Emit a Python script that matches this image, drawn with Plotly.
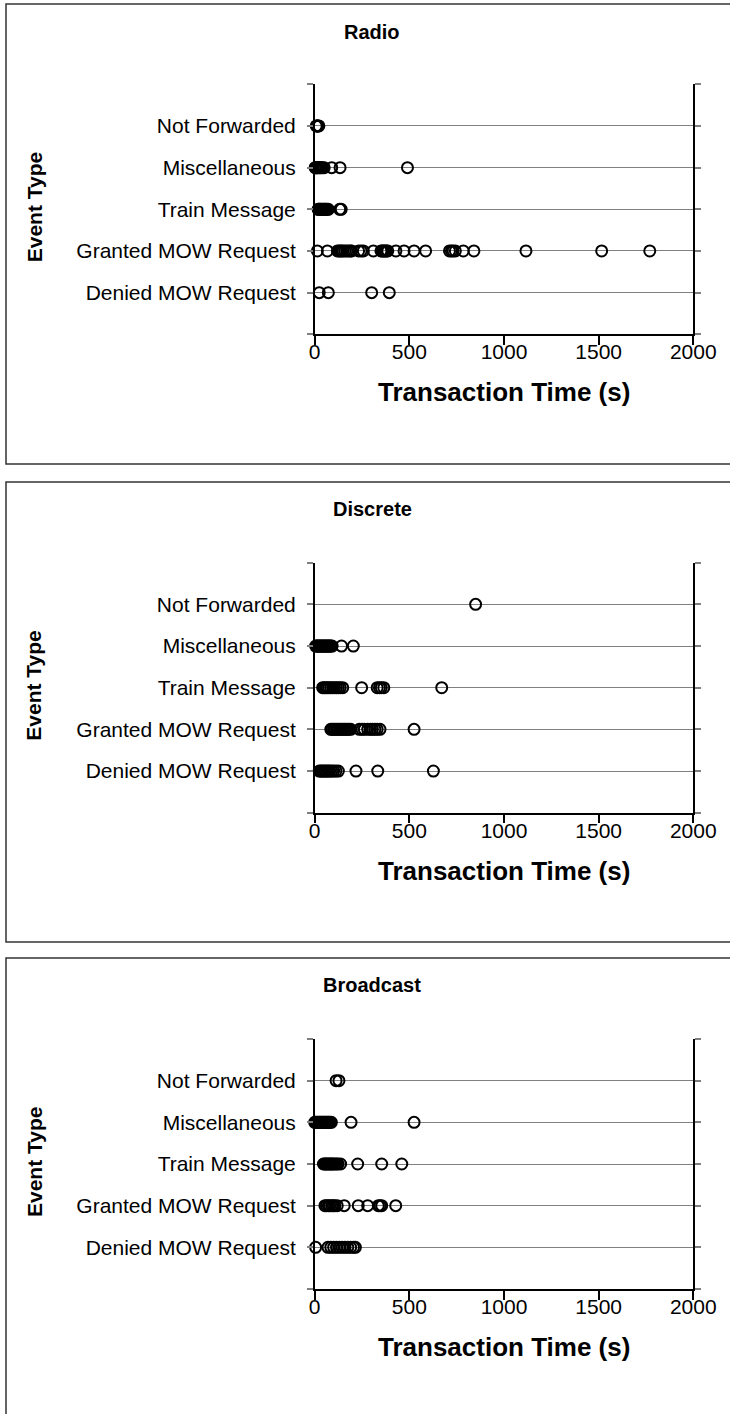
import plotly.graph_objects as go

# ---- data: transaction time (s) per event type, for each channel ----
categories = ["Denied MOW Request", "Granted MOW Request", "Train Message",
              "Miscellaneous", "Not Forwarded"]
x_ticks = [0, 500, 1000, 1500, 2000]

radio_denied = [24, 72, 301, 394]
radio_granted = [14, 67, 120, 128, 135, 142, 150, 160, 170, 180, 190, 195, 232,
                 245, 257, 310, 350, 356, 362, 368, 374, 380, 386, 429, 472, 525,
                 586, 712, 722, 731, 743, 785, 841, 1116, 1516, 1770]
radio_train = [18, 22, 26, 30, 35, 40, 45, 50, 55, 60, 65, 72, 132, 140]
radio_misc = [2, 5, 8, 12, 15, 20, 25, 30, 35, 42, 50, 90, 134, 490]
radio_not_fwd = [8, 12, 15, 18, 22]

discrete_denied = [24, 32, 40, 48, 56, 64, 72, 80, 90, 100, 112, 125, 218, 333, 627]
discrete_granted = [85, 92, 100, 108, 116, 124, 132, 140, 148, 156, 164, 172, 180,
                    190, 236, 250, 262, 280, 295, 305, 318, 330, 345, 525]
discrete_train = [42, 50, 58, 66, 75, 85, 95, 105, 115, 125, 135, 148, 248, 330,
                  342, 352, 365, 671]
discrete_misc = [5, 10, 15, 20, 25, 30, 35, 40, 45, 50, 55, 60, 65, 70, 75, 80,
                 85, 92, 142, 204]
discrete_not_fwd = [850]

broadcast_denied = [5, 70, 85, 100, 115, 130, 145, 160, 175, 190, 205, 215]
broadcast_granted = [54, 62, 72, 80, 90, 98, 106, 119, 156, 230, 280, 336, 345,
                     354, 428]
broadcast_train = [46, 52, 58, 64, 70, 76, 82, 88, 94, 100, 108, 116, 124, 137,
                   227, 354, 460]
broadcast_misc = [0, 5, 10, 15, 20, 25, 30, 35, 40, 45, 50, 55, 60, 65, 70, 75,
                  80, 88, 192, 525]
broadcast_not_fwd = [113, 128]

panels = [
    ("Radio", [radio_denied, radio_granted, radio_train, radio_misc, radio_not_fwd]),
    ("Discrete", [discrete_denied, discrete_granted, discrete_train, discrete_misc,
                  discrete_not_fwd]),
    ("Broadcast", [broadcast_denied, broadcast_granted, broadcast_train,
                   broadcast_misc, broadcast_not_fwd]),
]

# ---- page geometry (pixels) ----
W, H = 730, 1414
FONT = "Liberation Sans, Arial, sans-serif"


def fx(p):
    return p / W


def fy(p):
    return 1 - p / H


plot_left, plot_right = 314.7, 693.3
plot_tops = [84.3, 562.7, 1039.0]
plot_h = 250.0
frames = [(4, 464), (482, 942), (958, 1424)]
title_y = [32, 509, 985]

fig = go.Figure()
layout = dict(
    template="none",
    width=W, height=H, autosize=False,
    margin=dict(l=0, r=0, t=0, b=0, pad=0, autoexpand=False),
    paper_bgcolor="white", plot_bgcolor="white",
    showlegend=False,
    font=dict(family=FONT, color="black"),
    shapes=[], annotations=[],
)

for i, (name, series) in enumerate(panels):
    k = "" if i == 0 else str(i + 1)
    top = plot_tops[i]
    bottom = top + plot_h

    for ci, vals in enumerate(series):
        fig.add_trace(go.Scatter(
            x=vals, y=[ci + 1] * len(vals),
            mode="markers", xaxis="x" + k, yaxis="y" + k,
            cliponaxis=False,
            marker=dict(symbol="circle-open", size=11, color="black",
                        line=dict(width=2, color="black")),
            hoverinfo="x",
        ))

    layout["xaxis" + k] = dict(
        domain=[fx(plot_left), fx(plot_right)], anchor="y" + k,
        range=[0, 2000], tickvals=x_ticks, ticktext=[str(v) for v in x_ticks],
        ticks="outside", ticklen=9, tickwidth=1.5, tickcolor="black",
        showline=True, linecolor="black", linewidth=1.5, mirror=False,
        showgrid=False, zeroline=False, automargin=False,
        tickfont=dict(size=21, family=FONT), ticklabelstandoff=-11,
        fixedrange=True,
    )
    layout["yaxis" + k] = dict(
        domain=[fy(bottom), fy(top)], anchor="x" + k,
        range=[0, 6], tickvals=[0, 1, 2, 3, 4, 5, 6],
        ticktext=[""] + categories + [""],
        ticks="outside", ticklen=6, tickwidth=1.5, tickcolor="#808080",
        showline=True, linecolor="black", linewidth=1.5, mirror="ticks",
        showgrid=True, gridcolor="#808080", gridwidth=1.2, zeroline=False,
        automargin=False,
        tickfont=dict(size=21, family=FONT), ticklabelstandoff=7,
        fixedrange=True,
    )

    # outer frame of each chart
    f0, f1 = frames[i]
    layout["shapes"].append(dict(
        type="rect", xref="paper", yref="paper",
        x0=fx(6), x1=fx(745), y0=fy(f1), y1=fy(f0),
        line=dict(color="#333333", width=1.5), fillcolor="rgba(0,0,0,0)",
        layer="below",
    ))

    layout["annotations"] += [
        dict(text="<b>%s</b>" % name, xref="paper", yref="paper",
             x=fx(372), y=fy(title_y[i]), xanchor="center", yanchor="middle",
             showarrow=False, font=dict(size=20, family=FONT)),
        dict(text="<b>Transaction Time (s)</b>", xref="paper", yref="paper",
             x=fx((plot_left + plot_right) / 2), y=fy(bottom + 58),
             xanchor="center", yanchor="middle", showarrow=False,
             font=dict(size=26, family=FONT)),
        dict(text="<b>Event Type</b>", xref="paper", yref="paper",
             x=fx(34), y=fy(top + plot_h / 2 - 2), xanchor="center",
             yanchor="middle", textangle=-90, showarrow=False,
             font=dict(size=21, family=FONT)),
    ]

fig.update_layout(**layout)

# page without body margin or scrollbars so the figure sits at the top-left
page_fix = (
    "document.documentElement.style.overflow='hidden';"
    "document.body.style.margin='0';"
    "document.body.style.overflow='hidden';"
)
fig.write_html("out.html", config={"responsive": False}, post_script=page_fix)
